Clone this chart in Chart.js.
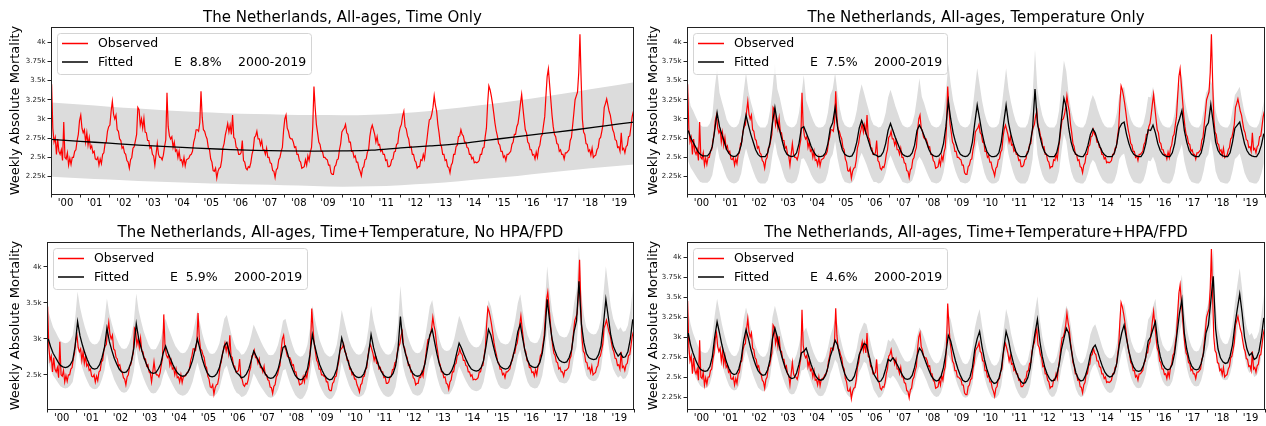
<!DOCTYPE html>
<html>
<head>
<meta charset="utf-8">
<script src="https://cdn.jsdelivr.net/npm/chart.js@4.4.0/dist/chart.umd.min.js"></script>
<style>
body { margin: 0; background: #fff; width: 1266px; height: 426px; position: relative; overflow: hidden; }
canvas { position: absolute; }
</style>
</head>
<body>
<canvas id="c1" width="640" height="213" style="left:0;top:0;width:640px;height:213px"></canvas>
<canvas id="c2" width="626" height="213" style="left:640px;top:0;width:626px;height:213px"></canvas>
<canvas id="c3" width="640" height="213" style="left:0;top:213px;width:640px;height:213px"></canvas>
<canvas id="c4" width="626" height="213" style="left:640px;top:213px;width:626px;height:213px"></canvas>
<script>
const FONT = "'DejaVu Sans', sans-serif";

// weekly observed deaths, read every ~half month (24 per year), 2000-2019
const observed = [
  3450,2880,2700,2760,2540,2740,2580,2540,2600,2460,2960,2500,2480,2560,2400,2490,2410,2500,2500,2580,2600,2720,2800,2980,
  3050,2880,2820,2860,2700,2820,2660,2760,2620,2650,2560,2580,2480,2470,2500,2400,2480,2420,2540,2560,2680,2700,2840,2900,
  2920,3100,3230,3060,3000,3050,2860,2840,2740,2720,2620,2640,2560,2540,2460,2440,2360,2470,2500,2620,2640,2720,2800,3150,
  3120,2920,3000,2880,3010,2830,2820,2720,2720,2620,2640,2540,2520,2400,2540,2680,2540,2500,2500,2470,2530,2640,2730,3340,
  2900,2780,2740,2770,2630,2700,2580,2600,2500,2580,2460,2470,2400,2500,2390,2470,2480,2490,2530,2540,2580,2700,2760,2860,
  2860,2840,2950,3360,3020,2860,2840,2780,2740,2630,2600,2480,2440,2330,2320,2360,2230,2320,2360,2370,2460,2620,2680,2790,
  2860,2940,2830,2920,2800,3050,2760,2740,2630,2620,2540,2540,2560,2720,2460,2440,2360,2340,2380,2370,2430,2540,2600,2760,
  2780,2840,2740,2740,2660,2720,2600,2600,2540,2620,2500,2500,2430,2420,2330,2320,2240,2340,2360,2470,2500,2580,2630,2850,
  3000,3050,2880,2840,2760,2740,2740,2700,2630,2640,2540,2540,2460,2440,2360,2370,2380,2470,2400,2520,2460,2570,2630,2900,
  3420,3150,2930,2820,2700,2670,2580,2580,2500,2500,2480,2470,2400,2400,2300,2280,2280,2380,2400,2470,2480,2600,2680,2830,
  2860,2880,2930,2820,2800,2700,2700,2580,2580,2500,2520,2440,2440,2360,2320,2260,2360,2380,2470,2480,2570,2600,2770,2870,
  2920,2860,2800,2700,2770,2660,2670,2580,2600,2540,2540,2460,2470,2380,2380,2400,2470,2480,2570,2580,2670,2680,2820,2890,
  2930,3040,3100,2900,2870,2780,2740,2630,2640,2540,2540,2460,2440,2360,2380,2380,2470,2460,2540,2480,2620,2730,2870,2990,
  3000,3060,3150,3300,3180,3100,2930,2820,2680,2640,2540,2540,2460,2470,2380,2370,2300,2400,2430,2540,2540,2640,2660,2770,
  2780,2860,2800,2780,2700,2700,2630,2620,2540,2540,2480,2500,2430,2440,2430,2440,2460,2540,2540,2620,2630,2770,2880,3200,
  3430,3380,3300,3200,3080,2950,2850,2780,2680,2660,2580,2580,2500,2520,2460,2540,2540,2560,2580,2670,2700,2800,2800,2900,
  2940,3060,3200,3320,3150,3000,2860,2820,2700,2680,2600,2600,2530,2540,2480,2570,2500,2620,2660,2770,2800,2920,3030,3300,
  3550,3650,3450,3250,3050,2900,2800,2770,2680,2670,2580,2600,2540,2540,2480,2560,2560,2580,2600,2720,2760,2920,3080,3250,
  3300,3350,3600,4100,3500,3000,2830,2800,2680,2670,2580,2600,2530,2620,2500,2520,2530,2600,2630,2740,2760,2840,2930,3150,
  3200,3260,3180,3100,3050,2950,2860,2820,2730,2720,2630,2640,2580,2820,2600,2620,2560,2640,2660,2770,2780,2900,3030,3100
];

// time-only model: one value per year boundary 2000..2020
const timeFit = [2735,2710,2685,2660,2640,2620,2605,2592,2585,2582,2585,2595,2625,2650,2680,2725,2770,2815,2860,2910,2960];
const timeHi  = [3215,3188,3160,3135,3110,3090,3075,3063,3055,3050,3048,3055,3075,3105,3145,3190,3240,3295,3355,3415,3478];
const timeLo  = [2248,2230,2212,2195,2180,2168,2158,2148,2140,2130,2120,2125,2140,2160,2190,2225,2260,2300,2340,2375,2409];

// temperature-only model, monthly
const tempFit = [
  2850,2760,2700,2640,2580,2540,2520,2520,2520,2560,2640,2850,
  3080,2900,2800,2700,2600,2550,2520,2510,2520,2560,2660,2880,
  3050,2920,2800,2700,2600,2540,2510,2510,2510,2560,2700,2950,
  3150,2950,2850,2720,2600,2540,2520,2510,2520,2560,2680,2880,
  2900,2820,2740,2650,2580,2530,2510,2510,2520,2560,2680,2880,
  2950,3150,2900,2720,2600,2540,2520,2510,2520,2580,2700,2880,
  2980,2900,2800,2700,2600,2540,2530,2510,2520,2570,2680,2850,
  2940,2850,2760,2680,2600,2540,2520,2510,2520,2560,2660,2850,
  2920,2860,2780,2690,2600,2540,2520,2510,2520,2560,2680,2900,
  3230,3000,2820,2700,2600,2540,2520,2510,2520,2560,2700,2950,
  3180,3000,2820,2680,2580,2530,2510,2510,2520,2560,2700,2950,
  3180,2950,2800,2680,2580,2530,2510,2510,2510,2560,2680,2880,
  3390,2950,2780,2650,2570,2530,2510,2510,2510,2560,2700,3000,
  3270,3150,2880,2700,2590,2540,2520,2510,2510,2560,2660,2800,
  2870,2820,2720,2640,2570,2530,2510,2510,2510,2560,2680,2880,
  2940,2960,2800,2680,2590,2540,2520,2510,2510,2560,2680,2860,
  2850,2920,2820,2680,2590,2540,2520,2510,2510,2560,2680,2900,
  3000,3110,2850,2700,2590,2540,2520,2510,2510,2560,2700,2900,
  2950,3190,2950,2700,2590,2540,2520,2510,2510,2560,2700,2880,
  2920,2960,2820,2680,2590,2540,2520,2510,2510,2560,2660,2810
];
const tempHi = [
  3350,3170,3110,3040,2970,2920,2900,2900,2900,2940,3040,3400,
  3650,3340,3220,3110,2990,2930,2900,2890,2900,2940,3060,3350,
  3600,3360,3220,3110,2990,2920,2890,2890,2890,2940,3110,3390,
  3720,3390,3280,3130,2990,2920,2900,2890,2900,2940,3080,3310,
  3570,3240,3150,3050,2970,2910,2890,2890,2900,2940,3080,3310,
  3390,3600,3340,3130,2990,2920,2900,2890,2900,2970,3110,3310,
  3450,3340,3220,3110,2990,2920,2910,2890,2900,2960,3080,3280,
  3380,3280,3170,3080,2990,2920,2900,2890,2900,2940,3060,3280,
  3530,3290,3200,3090,2990,2920,2900,2890,2900,2940,3080,3340,
  3720,3450,3240,3110,2990,2920,2900,2890,2900,2940,3110,3390,
  3660,3450,3240,3080,2970,2910,2890,2890,2900,2940,3110,3390,
  3660,3390,3220,3080,2970,2910,2890,2890,2890,2940,3080,3310,
  3900,3390,3200,3050,2960,2910,2890,2890,2890,2940,3110,3450,
  3760,3620,3310,3110,2980,2920,2900,2890,2890,2940,3060,3220,
  3310,3240,3130,3040,2960,2910,2890,2890,2890,2940,3080,3310,
  3380,3420,3220,3080,2980,2920,2900,2890,2890,2940,3080,3290,
  3280,3420,3240,3080,2980,2920,2900,2890,2890,2940,3080,3340,
  3450,3580,3280,3110,2980,2920,2900,2890,2890,2940,3110,3340,
  3390,3500,3390,3110,2980,2920,2900,2890,2890,2940,3110,3310,
  3360,3420,3240,3080,2980,2920,2900,2890,2890,2940,3060,3230
];
const tempLo = [
  2450,2370,2320,2270,2220,2180,2170,2170,2170,2200,2270,2450,
  2650,2490,2410,2320,2240,2190,2170,2160,2170,2200,2290,2480,
  2620,2510,2410,2320,2240,2180,2160,2160,2160,2200,2320,2540,
  2710,2540,2450,2340,2240,2180,2170,2160,2170,2200,2300,2480,
  2490,2430,2360,2280,2220,2180,2160,2160,2170,2200,2300,2480,
  2540,2710,2490,2340,2240,2180,2170,2160,2170,2220,2320,2480,
  2560,2490,2410,2320,2240,2180,2180,2160,2170,2210,2300,2450,
  2530,2450,2370,2300,2240,2180,2170,2160,2170,2200,2290,2450,
  2510,2460,2390,2310,2240,2180,2170,2160,2170,2200,2300,2490,
  2780,2580,2430,2320,2240,2180,2170,2160,2170,2200,2320,2540,
  2730,2580,2430,2300,2220,2180,2160,2160,2170,2200,2320,2540,
  2730,2540,2410,2300,2220,2180,2160,2160,2160,2200,2300,2480,
  2920,2540,2390,2280,2210,2180,2160,2160,2160,2200,2320,2580,
  2810,2710,2480,2320,2230,2180,2170,2160,2160,2200,2290,2410,
  2470,2430,2340,2270,2210,2180,2160,2160,2160,2200,2300,2480,
  2530,2550,2410,2300,2230,2180,2170,2160,2160,2200,2300,2460,
  2450,2510,2430,2300,2230,2180,2170,2160,2160,2200,2300,2490,
  2580,2670,2450,2320,2230,2180,2170,2160,2160,2200,2320,2490,
  2540,2740,2540,2320,2230,2180,2170,2160,2160,2200,2320,2480,
  2510,2550,2430,2300,2230,2180,2170,2160,2160,2200,2290,2420
];

// time + temperature model (no HPA/FPD), monthly
const ttFit = [
  3000,2890,2800,2740,2680,2630,2610,2600,2610,2640,2700,2900,
  3240,3040,2910,2800,2710,2630,2590,2580,2590,2640,2740,2880,
  3150,2960,2840,2730,2650,2580,2540,2530,2540,2590,2690,2870,
  3210,3000,2870,2750,2660,2580,2530,2520,2530,2580,2650,2800,
  2900,2800,2720,2640,2570,2520,2490,2480,2490,2530,2600,2700,
  2850,3000,2860,2720,2610,2530,2480,2470,2480,2520,2600,2750,
  2900,2950,2820,2700,2600,2530,2500,2460,2470,2510,2580,2700,
  2830,2760,2690,2620,2560,2500,2460,2450,2460,2500,2580,2720,
  2880,2900,2780,2660,2570,2490,2450,2430,2440,2490,2580,2780,
  3060,2900,2760,2640,2560,2490,2450,2430,2440,2490,2580,2780,
  3010,2880,2750,2640,2560,2500,2470,2460,2470,2510,2600,2800,
  3060,2880,2750,2640,2560,2500,2470,2460,2470,2520,2620,2850,
  3310,2950,2800,2680,2590,2520,2490,2480,2490,2540,2650,2850,
  3050,3130,2950,2780,2640,2550,2510,2500,2510,2560,2650,2800,
  2940,2870,2780,2700,2630,2580,2560,2550,2560,2600,2700,2900,
  3130,3050,2900,2760,2660,2610,2590,2580,2590,2640,2750,2900,
  3100,3200,3000,2820,2700,2630,2610,2600,2610,2670,2800,3050,
  3550,3250,3000,2850,2760,2700,2680,2670,2680,2740,2850,3100,
  3250,3800,3200,2950,2800,2740,2720,2710,2720,2780,2900,3200,
  3550,3300,3050,2900,2820,2760,2800,2740,2750,2820,3000,3270
];
const ttHi = [
  3390,3270,3160,3100,3030,2970,2950,2940,2950,2980,3050,3280,
  3660,3440,3290,3160,3060,2970,2930,2920,2930,2980,3100,3250,
  3560,3350,3210,3090,3000,2920,2870,2860,2870,2930,3040,3240,
  3630,3390,3240,3110,3010,2920,2860,2850,2860,2920,3000,3160,
  3280,3160,3070,2980,2900,2850,2810,2800,2810,2860,2940,3050,
  3220,3390,3230,3070,2950,2860,2800,2790,2800,2850,2940,3110,
  3280,3330,3190,3050,2940,2860,2830,2780,2790,2840,2920,3050,
  3200,3120,3040,2960,2890,2830,2780,2770,2780,2830,2920,3070,
  3250,3280,3140,3010,2900,2810,2770,2750,2760,2810,2920,3140,
  3460,3280,3120,2980,2890,2810,2770,2750,2760,2810,2920,3140,
  3400,3250,3110,2980,2890,2830,2790,2780,2790,2840,2940,3160,
  3460,3250,3110,2980,2890,2830,2790,2780,2790,2850,2960,3220,
  3740,3330,3160,3030,2930,2850,2810,2800,2810,2870,3000,3220,
  3450,3540,3330,3140,2980,2880,2840,2830,2840,2890,3000,3160,
  3320,3240,3140,3050,2970,2920,2890,2880,2890,2940,3050,3280,
  3540,3450,3280,3120,3010,2950,2930,2920,2930,2980,3110,3280,
  3500,3620,3390,3190,3050,2970,2950,2940,2950,3020,3160,3450,
  4010,3670,3390,3220,3120,3050,3030,3020,3030,3100,3220,3500,
  3670,4290,3620,3330,3160,3100,3070,3060,3070,3140,3280,3620,
  4010,3730,3450,3280,3190,3120,3160,3100,3110,3190,3390,3700
];
const ttLo = [
  2670,2570,2490,2440,2390,2340,2320,2310,2320,2350,2400,2580,
  2880,2710,2590,2490,2410,2340,2310,2300,2310,2350,2440,2560,
  2800,2630,2530,2430,2360,2300,2260,2250,2260,2310,2390,2550,
  2860,2670,2550,2450,2370,2300,2250,2240,2250,2300,2360,2490,
  2580,2490,2420,2350,2290,2240,2220,2210,2220,2250,2310,2400,
  2540,2670,2550,2420,2320,2250,2210,2200,2210,2240,2310,2450,
  2580,2630,2510,2400,2310,2250,2230,2190,2200,2230,2300,2400,
  2520,2460,2390,2330,2280,2230,2190,2180,2190,2230,2300,2420,
  2560,2580,2470,2370,2290,2220,2180,2160,2170,2220,2300,2470,
  2720,2580,2460,2350,2280,2220,2180,2160,2170,2220,2300,2470,
  2680,2560,2450,2350,2280,2230,2200,2190,2200,2230,2310,2490,
  2720,2560,2450,2350,2280,2230,2200,2190,2200,2240,2330,2540,
  2950,2630,2490,2390,2310,2240,2220,2210,2220,2260,2360,2540,
  2710,2790,2630,2470,2350,2270,2230,2230,2230,2280,2360,2490,
  2620,2550,2470,2400,2340,2300,2280,2270,2280,2310,2400,2580,
  2790,2710,2580,2460,2370,2320,2310,2300,2310,2350,2450,2580,
  2760,2850,2670,2510,2400,2340,2320,2310,2320,2380,2490,2710,
  3160,2890,2670,2540,2460,2400,2390,2380,2390,2440,2540,2760,
  2890,3380,2850,2630,2490,2440,2420,2410,2420,2470,2580,2850,
  3160,2940,2710,2580,2510,2460,2490,2440,2450,2510,2670,2910
];

// time + temperature + HPA/FPD model, monthly
const fullFit = [
  3050,2900,2800,2720,2650,2600,2580,2570,2580,2630,2750,3000,
  3190,3050,2900,2780,2680,2600,2550,2530,2540,2600,2720,2950,
  3090,2980,2850,2740,2650,2580,2540,2520,2530,2590,2720,2980,
  3110,3000,2860,2740,2640,2560,2500,2480,2490,2550,2660,2800,
  2820,2860,2760,2660,2580,2510,2470,2460,2470,2520,2620,2760,
  2850,2960,2900,2760,2640,2540,2480,2450,2460,2510,2620,2780,
  2850,2920,2900,2780,2650,2540,2490,2440,2450,2500,2600,2720,
  2700,2740,2700,2640,2580,2520,2480,2470,2480,2520,2620,2760,
  2860,2820,2740,2660,2580,2510,2470,2450,2460,2510,2620,2800,
  3020,2950,2820,2700,2600,2520,2460,2440,2450,2500,2620,2850,
  2980,3070,2880,2720,2600,2510,2450,2420,2430,2480,2600,2850,
  3070,2960,2800,2680,2580,2500,2450,2420,2430,2490,2610,2850,
  3050,3220,2950,2760,2630,2540,2480,2450,2460,2520,2650,2850,
  2980,3110,3050,2850,2680,2550,2480,2450,2460,2520,2630,2780,
  2860,2900,2820,2720,2630,2560,2520,2500,2510,2560,2680,2900,
  3050,3150,2980,2820,2700,2620,2580,2570,2580,2640,2750,2950,
  3000,3100,3190,2920,2760,2660,2610,2590,2600,2660,2800,3050,
  3300,3470,3050,2850,2720,2640,2600,2590,2600,2670,2800,3050,
  3150,3450,3760,3100,2850,2740,2690,2670,2680,2760,2900,3150,
  3350,3540,3300,3000,2850,2770,2800,2720,2740,2820,3000,3240
];
const fullHi = [
  3320,3160,3050,2970,2890,2830,2810,2800,2810,2870,3000,3270,
  3480,3320,3160,3030,2920,2830,2780,2760,2770,2830,2970,3220,
  3370,3250,3110,2990,2890,2810,2770,2750,2760,2820,2970,3250,
  3390,3270,3120,2990,2880,2790,2730,2700,2710,2780,2900,3050,
  3070,3120,3010,2900,2810,2740,2690,2680,2690,2750,2860,3010,
  3110,3230,3160,3010,2880,2770,2700,2670,2680,2740,2860,3030,
  3110,3180,3160,3030,2890,2770,2710,2660,2670,2730,2830,2970,
  2940,2990,2940,2880,2810,2750,2700,2690,2700,2750,2860,3010,
  3120,3070,2990,2900,2810,2740,2690,2670,2680,2740,2860,3050,
  3290,3220,3070,2940,2830,2750,2680,2660,2670,2730,2860,3110,
  3250,3350,3140,2970,2830,2740,2670,2640,2650,2700,2830,3110,
  3350,3230,3050,2920,2810,2730,2670,2640,2650,2710,2850,3110,
  3320,3510,3220,3010,2870,2770,2700,2670,2680,2750,2890,3110,
  3250,3390,3320,3110,2920,2780,2700,2670,2680,2750,2870,3030,
  3120,3160,3070,2970,2870,2790,2750,2730,2740,2790,2920,3160,
  3320,3430,3250,3070,2940,2860,2810,2800,2810,2880,3000,3220,
  3270,3380,3480,3180,3010,2900,2850,2820,2830,2900,3050,3320,
  3600,3780,3320,3110,2970,2880,2830,2820,2830,2910,3050,3320,
  3430,3760,4100,3380,3110,2990,2930,2910,2920,3010,3160,3430,
  3650,3860,3600,3270,3110,3020,3050,2970,2990,3070,3270,3530
];
const fullLo = [
  2810,2670,2580,2500,2440,2390,2370,2360,2370,2420,2530,2760,
  2930,2810,2670,2560,2470,2390,2350,2330,2340,2390,2500,2710,
  2840,2740,2620,2520,2440,2370,2340,2320,2330,2380,2500,2740,
  2860,2760,2630,2520,2430,2360,2300,2280,2290,2350,2450,2580,
  2590,2630,2540,2450,2370,2310,2270,2260,2270,2320,2410,2540,
  2620,2720,2670,2540,2430,2340,2280,2250,2260,2310,2410,2560,
  2620,2690,2670,2560,2440,2340,2290,2240,2250,2300,2390,2500,
  2480,2520,2480,2430,2370,2320,2280,2270,2280,2320,2410,2540,
  2630,2590,2520,2450,2370,2310,2270,2250,2260,2310,2410,2580,
  2780,2710,2590,2480,2390,2320,2260,2240,2250,2300,2410,2620,
  2740,2820,2650,2500,2390,2310,2250,2230,2240,2280,2390,2620,
  2820,2720,2580,2470,2370,2300,2250,2230,2240,2290,2400,2620,
  2810,2960,2710,2540,2420,2340,2280,2250,2260,2320,2440,2620,
  2740,2860,2810,2620,2470,2350,2280,2250,2260,2320,2420,2560,
  2630,2670,2590,2500,2420,2360,2320,2300,2310,2360,2470,2670,
  2810,2900,2740,2590,2480,2410,2370,2360,2370,2430,2530,2710,
  2760,2850,2930,2690,2540,2450,2400,2380,2390,2450,2580,2810,
  3040,3190,2810,2620,2500,2430,2390,2380,2390,2460,2580,2810,
  2900,3170,3460,2850,2620,2520,2470,2460,2470,2540,2670,2900,
  3080,3260,3040,2760,2620,2550,2580,2500,2520,2590,2760,2980
];

const yearLabels = ["'00","'01","'02","'03","'04","'05","'06","'07","'08","'09",
                    "'10","'11","'12","'13","'14","'15","'16","'17","'18","'19"];
const yTicksFine = [2250, 2500, 2750, 3000, 3250, 3500, 3750, 4000];
const yTicksCoarse = [2500, 3000, 3500, 4000];

function weekly(arr) { return arr.map((v, i) => ({x: 2000 + (i + 0.5) / 24, y: v})); }
function monthly(arr) { return arr.map((v, i) => ({x: 2000 + (i + 0.5) / 12, y: v})); }
function yearly(arr) { return arr.map((v, i) => ({x: 2000 + i, y: v})); }

const framePlugin = {
  id: 'frame',
  afterDatasetsDraw(chart) {
    const a = chart.chartArea, ctx = chart.ctx;
    ctx.save();
    ctx.strokeStyle = '#222';
    ctx.lineWidth = 1;
    ctx.strokeRect(Math.round(a.left) + 0.5, Math.round(a.top) + 0.5,
                   Math.round(a.right - a.left) - 1, Math.round(a.bottom - a.top));
    ctx.restore();
  }
};

const legendPlugin = {
  id: 'boxLegend',
  afterDatasetsDraw(chart, args, opts) {
    const a = chart.chartArea, ctx = chart.ctx;
    const x = Math.round(a.left) + 6, y = Math.round(a.top) + 6;
    ctx.save();
    ctx.fillStyle = 'rgba(255,255,255,0.8)';
    ctx.strokeStyle = '#d4d4d4';
    ctx.lineWidth = 1;
    ctx.beginPath();
    ctx.roundRect(x + 0.5, y + 0.5, 254, 41, 3);
    ctx.fill();
    ctx.stroke();
    ctx.lineWidth = 1.5;
    ctx.strokeStyle = '#ff0000';
    ctx.beginPath(); ctx.moveTo(x + 5, y + 10.5); ctx.lineTo(x + 31, y + 10.5); ctx.stroke();
    ctx.strokeStyle = '#000';
    ctx.beginPath(); ctx.moveTo(x + 5, y + 29); ctx.lineTo(x + 31, y + 29); ctx.stroke();
    ctx.fillStyle = '#000';
    ctx.font = '12.5px ' + FONT;
    ctx.textBaseline = 'middle';
    ctx.fillText('Observed', x + 41, y + 11);
    ctx.fillText('Fitted', x + 41, y + 29.5);
    ctx.fillText('E  ' + opts.err, x + 117, y + 29.5);
    ctx.fillText('2000-2019', x + 181, y + 29.5);
    ctx.restore();
  }
};

function makePanel(id, p) {
  const datasets = [
    {data: p.fit, borderColor: '#000', borderWidth: 1.3, pointRadius: 0, fill: false,
     tension: p.smooth ? 0.4 : 0, cubicInterpolationMode: p.smooth ? 'monotone' : 'default'},
    {data: weekly(observed), borderColor: '#ff0000', borderWidth: 1.2, pointRadius: 0, fill: false, tension: 0},
    {data: p.hi, borderWidth: 0, borderColor: 'rgba(0,0,0,0)', pointRadius: 0, fill: '+1',
     backgroundColor: '#dcdcdc', tension: p.smooth ? 0.4 : 0, cubicInterpolationMode: p.smooth ? 'monotone' : 'default'},
    {data: p.lo, borderWidth: 0, borderColor: 'rgba(0,0,0,0)', pointRadius: 0, fill: false,
     tension: p.smooth ? 0.4 : 0, cubicInterpolationMode: p.smooth ? 'monotone' : 'default'}
  ];
  return new Chart(document.getElementById(id), {
    type: 'line',
    data: {datasets: datasets},
    plugins: [framePlugin, legendPlugin],
    options: {
      responsive: false,
      animation: false,
      devicePixelRatio: 1,
      layout: {padding: {left: 0, right: p.padRight, top: 0, bottom: 0}},
      plugins: {
        legend: {display: false},
        tooltip: {enabled: false},
        title: {display: true, text: p.title, fullSize: false, color: '#000',
                font: {family: FONT, size: 15, weight: 'normal', lineHeight: 1.2},
                padding: {top: p.titleTop, bottom: 0}},
        boxLegend: {err: p.err}
      },
      scales: {
        x: {
          type: 'linear', min: 2000, max: 2020,
          border: {display: false},
          grid: {drawOnChartArea: false, drawTicks: true, tickLength: 3.5,
                 color: c => (c.tick && Number.isInteger(c.tick.value)) ? '#222' : 'rgba(0,0,0,0)'},
          afterBuildTicks: s => {
            const t = [];
            for (let k = 0; k <= 40; k++) t.push({value: 2000 + k * 0.5});
            s.ticks = t;
          },
          afterFit: s => { s.height = p.xAxisH; },
          ticks: {
            autoSkip: false, maxRotation: 0, padding: 0, color: '#000',
            font: {family: FONT, size: 10},
            callback: v => Number.isInteger(v) ? '' : yearLabels[Math.floor(v - 2000)]
          }
        },
        y: {
          min: p.yMin, max: p.yMax,
          border: {display: false},
          grid: {drawOnChartArea: false, drawTicks: true, tickLength: 3.5, color: '#222'},
          afterBuildTicks: s => { s.ticks = p.yTicks.map(v => ({value: v})); },
          afterFit: s => { s.width = p.left; },
          ticks: {padding: 2, color: '#222', font: {family: FONT, size: 7},
                  callback: v => (v / 1000) + 'k'},
          title: {display: true, text: 'Weekly Absolute Mortality', color: '#000',
                  font: {family: FONT, size: 13, lineHeight: 1.2},
                  padding: {top: p.yTitlePad, bottom: 0}}
        }
      }
    }
  });
}

makePanel('c1', {
  title: 'The Netherlands, All-ages, Time Only', err: '8.8%',
  fit: yearly(timeFit), hi: yearly(timeHi), lo: yearly(timeLo), smooth: true,
  yMin: 2025, yMax: 4195, yTicks: yTicksFine,
  left: 51, padRight: 6, titleTop: 9, xAxisH: 19, yTitlePad: 8
});
makePanel('c2', {
  title: 'The Netherlands, All-ages, Temperature Only', err: '7.5%',
  fit: monthly(tempFit), hi: monthly(tempHi), lo: monthly(tempLo), smooth: false,
  yMin: 2025, yMax: 4195, yTicks: yTicksFine,
  left: 47, padRight: 1, titleTop: 9, xAxisH: 19, yTitlePad: 5.5
});
makePanel('c3', {
  title: 'The Netherlands, All-ages, Time+Temperature, No HPA/FPD', err: '5.9%',
  fit: monthly(ttFit), hi: monthly(ttHi), lo: monthly(ttLo), smooth: false,
  yMin: 2024, yMax: 4347, yTicks: yTicksCoarse,
  left: 47, padRight: 6, titleTop: 11, xAxisH: 17, yTitlePad: 7.5
});
makePanel('c4', {
  title: 'The Netherlands, All-ages, Time+Temperature+HPA/FPD', err: '4.6%',
  fit: monthly(fullFit), hi: monthly(fullHi), lo: monthly(fullLo), smooth: false,
  yMin: 2100, yMax: 4188, yTicks: yTicksFine,
  left: 47, padRight: 1, titleTop: 11, xAxisH: 17, yTitlePad: 5.5
});
</script>
</body>
</html>
